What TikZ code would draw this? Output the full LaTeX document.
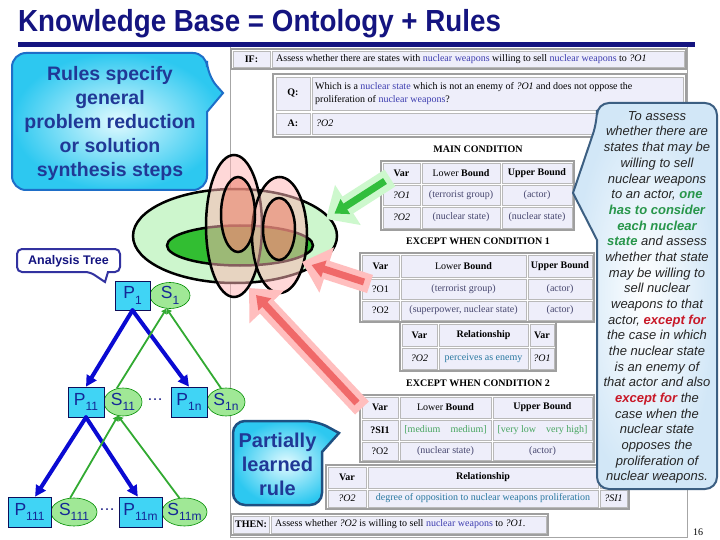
\documentclass[tikz,border=0pt]{standalone}
\usepackage{fontspec}
\setmainfont{Liberation Serif}
\setsansfont{Liberation Sans}
\newfontfamily\titlefont[FakeStretch=0.91]{Liberation Sans}
\usetikzlibrary{arrows.meta,shapes.geometric}
\definecolor{navy}{RGB}{20,20,128}
\definecolor{calltext}{RGB}{32,56,150}
\definecolor{treetext}{RGB}{20,40,150}
\definecolor{cellbg}{RGB}{238,238,250}
\definecolor{nw}{RGB}{60,60,175}
\definecolor{valc}{RGB}{70,70,110}
\definecolor{relc}{RGB}{40,120,160}
\definecolor{grc}{RGB}{70,165,95}
\definecolor{lgreen}{RGB}{205,246,205}
\definecolor{dgreen}{RGB}{50,190,50}
\definecolor{pinkA}{RGB}{255,182,182}
\definecolor{salmon}{RGB}{238,125,105}
\definecolor{pinkO}{RGB}{255,190,190}
\definecolor{pinkI}{RGB}{240,105,105}
\definecolor{greenO}{RGB}{205,248,205}
\definecolor{greenI}{RGB}{50,190,60}
\definecolor{pcyan}{RGB}{64,212,245}
\definecolor{sgreen}{RGB}{160,232,150}
\definecolor{cyanE}{RGB}{45,200,240}
\definecolor{cyanC}{RGB}{225,250,255}
\definecolor{rcE}{RGB}{210,231,247}
\definecolor{rcB}{RGB}{60,95,130}
\definecolor{okgreen}{RGB}{40,150,75}
\definecolor{exred}{RGB}{200,25,40}
\definecolor{barrowc}{RGB}{10,10,210}
\definecolor{garrowc}{RGB}{50,170,50}
\newcommand\cellfont{\fontsize{10}{12}\selectfont}
\newcommand\sbs[1]{\raisebox{-0.3em}{\fontsize{12}{12}\selectfont #1}}
\newcommand\grnb[1]{\textbf{\textcolor{okgreen}{#1}}}
\newcommand\redb[1]{\textbf{\textcolor{exred}{#1}}}
\newcommand\tbcell[6]{\node[cellst, minimum width={(#4-#2)*1pt}, minimum height={(#5-#3)*1pt}] (#1) at ({(#2+#4)/2},{(#3+#5)/2}) {#6};}
\newcommand\tbcelll[6]{\tbcell{#1}{#2}{#3}{#4}{#5}{}\node[anchor=west, inner sep=0, font=\cellfont] (#1-t) at ({#2+4},{(#3+#5)/2}) {#6};}
\tikzset{
  cellst/.style={draw=gray!55, line width=0.7pt, fill=cellbg, inner sep=0, font=\cellfont, text=black},
  tframe/.style={draw=gray!75, line width=1.2pt, fill=white},
  hdr/.style={font=\cellfont\bfseries, inner sep=0},
  ellb/.style={draw=black, line width=2.5pt},
  pinkell/.style={ellb, fill=pinkA, fill opacity=0.52},
  salell/.style={ellb, fill=salmon, fill opacity=0.55},
  fatG/.style={line width=20pt, draw=greenO, -{Triangle[width=46pt,length=26pt]}},
  fatGi/.style={line width=7pt, draw=greenI, -{Triangle[width=17pt,length=13pt]}},
  fatP/.style={line width=19pt, draw=pinkO, -{Triangle[width=46pt,length=26pt]}},
  fatPi/.style={line width=7pt, draw=pinkI, -{Triangle[width=17pt,length=13pt]}},
  pbox/.style={draw=navy!70!black, line width=0.6pt, fill=pcyan, inner sep=0, font=\sffamily\fontsize{17.5}{20}\selectfont, text=treetext},
  sell/.style={ellipse, draw=green!55!black, line width=0.6pt, fill=sgreen, inner sep=0, font=\sffamily\fontsize{17.5}{20}\selectfont, text=treetext},
  barrow/.style={draw=barrowc, line width=4pt, line cap=round, -{Triangle[length=11pt,width=11pt]}},
  garrow/.style={draw=garrowc, line width=1.8pt, -{Triangle[length=5pt,width=6pt]}},
  lcall/.style={draw={rgb,255:red,30;green,110;blue,200}, line width=2pt, inner color=cyanC, outer color=cyanE},
  pcall/.style={draw={rgb,255:red,30;green,80;blue,130}, line width=2.5pt, inner color=cyanC, outer color=cyanE},
  rcall/.style={draw=rcB, line width=2pt, inner color=white, outer color=rcE},
  acall/.style={draw={rgb,255:red,50;green,50;blue,160}, line width=2pt, fill=white},
}
\begin{document}
\begin{tikzpicture}[x=1pt,y=-1pt]
\useasboundingbox (0,0) rectangle (720,540);
\fill[white] (0,0) rectangle (720,540);
% title and bar
\node[anchor=base west, inner sep=0, text=navy, font=\titlefont\bfseries\fontsize{30.5}{34}\selectfont] (title) at (18,32) {Knowledge Base = Ontology + Rules};
\fill[navy] (18,42) rectangle (695,47.5);
% screenshot frame
\draw[gray!70, line width=0.8pt] (230,47.5) -- (230,537) -- (687,537) -- (687,47.5);
% IF row
\draw[tframe] (231,49) rectangle (686,69);
\tbcell{ifl}{233}{51}{270}{67}{\textbf{IF:}}
\tbcelll{ift}{272}{51}{684}{67}{Assess whether there are states with \textcolor{nw}{nuclear weapons} willing to sell \textcolor{nw}{nuclear weapons} to \textit{?O1}}
% Q / A
\draw[tframe] (273,74) rectangle (686,137);
\tbcell{ql}{276}{77}{310}{110}{\textbf{Q:}}
\tbcell{qt}{312}{77}{683}{110}{}
\node[anchor=west, inner sep=0, align=left, font=\fontsize{10}{13}\selectfont] (qtext) at (315,93.5) {Which is a \textcolor{nw}{nuclear state} which is not an enemy of \textit{?O1} and does not oppose the\\proliferation of \textcolor{nw}{nuclear weapons}?};
\tbcell{al}{276}{113}{310}{134}{\textbf{A:}}
\tbcelll{at}{312}{113}{683}{134}{\textit{?O2}}
% main condition
\node[hdr] (mainh) at (478,149) {MAIN CONDITION};
\draw[tframe] (381,161) rectangle (574,230);
\tbcell{m11}{383}{163}{420}{183}{\textbf{Var}}
\tbcell{m12}{422}{163}{500}{183}{Lower \textbf{Bound}}
\tbcell{m13}{502}{163}{572}{183}{\textbf{Upper Bound}}
\tbcell{m21}{383}{185}{420}{205}{\textit{?O1}}
\tbcell{m22}{422}{185}{500}{205}{\textcolor{valc}{(terrorist group)}}
\tbcell{m23}{502}{185}{572}{205}{\textcolor{valc}{(actor)}}
\tbcell{m31}{383}{207}{420}{228}{\textit{?O2}}
\tbcell{m32}{422}{207}{500}{228}{\textcolor{valc}{(nuclear state)}}
\tbcell{m33}{502}{207}{572}{228}{\textcolor{valc}{(nuclear state)}}
% except 1
\node[hdr] (ex1h) at (478,241) {EXCEPT WHEN CONDITION 1};
\draw[tframe] (360,253) rectangle (594,322);
\tbcell{a11}{362}{255}{399}{277}{\textbf{Var}}
\tbcell{a12}{401}{255}{526}{277}{Lower \textbf{Bound}}
\tbcell{a13}{528}{255}{592}{277}{\textbf{Upper Bound}}
\tbcell{a21}{362}{279}{399}{299}{?O1}
\tbcell{a22}{401}{279}{526}{299}{\textcolor{valc}{(terrorist group)}}
\tbcell{a23}{528}{279}{592}{299}{\textcolor{valc}{(actor)}}
\tbcell{a31}{362}{301}{399}{320}{?O2}
\tbcell{a32}{401}{301}{526}{320}{\textcolor{valc}{(superpower, nuclear state)}}
\tbcell{a33}{528}{301}{592}{320}{\textcolor{valc}{(actor)}}
\draw[tframe] (400,322) rectangle (556,371);
\tbcell{r11}{402}{324}{437}{346}{\textbf{Var}}
\tbcell{r12}{439}{324}{528}{346}{\textbf{Relationship}}
\tbcell{r13}{530}{324}{554}{346}{\textbf{Var}}
\tbcell{r21}{402}{348}{437}{369}{\textit{?O2}}
\tbcell{r22}{439}{348}{528}{369}{\textcolor{relc}{perceives as enemy}}
\tbcell{r23}{530}{348}{554}{369}{\textit{?O1}}
% except 2
\node[hdr] (ex2h) at (478,383) {EXCEPT WHEN CONDITION 2};
\draw[tframe] (360,395) rectangle (594,462);
\tbcell{b11}{362}{397}{398}{418}{\textbf{Var}}
\tbcell{b12}{400}{397}{491}{418}{Lower \textbf{Bound}}
\tbcell{b13}{493}{397}{592}{418}{\textbf{Upper Bound}}
\tbcell{b21}{362}{420}{398}{440}{\textbf{?SI1}}
\tbcell{b22}{400}{420}{491}{440}{\textcolor{grc}{[medium\quad medium]}}
\tbcell{b23}{493}{420}{592}{440}{\textcolor{grc}{[very low\quad very high]}}
\tbcell{b31}{362}{442}{398}{460}{?O2}
\tbcell{b32}{400}{442}{491}{460}{\textcolor{valc}{(nuclear state)}}
\tbcell{b33}{493}{442}{592}{460}{\textcolor{valc}{(actor)}}
\draw[tframe] (326,465) rectangle (629,509);
\tbcell{s11}{328}{467}{366}{488}{\textbf{Var}}
\tbcell{s12}{368}{467}{598}{488}{\textbf{Relationship}}
\tbcell{s13}{600}{467}{627}{488}{}
\tbcell{s21}{328}{490}{366}{507}{\textit{?O2}}
\tbcell{s22}{368}{490}{598}{507}{\textcolor{relc}{degree of opposition to nuclear weapons proliferation}}
\tbcell{s23}{600}{490}{627}{507}{\textit{?SI1}}
% THEN row
\draw[tframe] (231,514) rectangle (548,535);
\tbcell{thl}{233}{516}{269}{533}{\textbf{THEN:}}
\tbcelll{tht}{271}{516}{546}{533}{Assess whether \textit{?O2} is willing to sell \textcolor{nw}{nuclear weapons} to \textit{?O1}.}
\node[inner sep=0, font=\cellfont] (pnum) at (698,532) {16};
% ellipse group
\draw[ellb, fill=lgreen] (235,236) ellipse [x radius=102pt, y radius=47pt];
\draw[ellb, fill=dgreen] (240,245.5) ellipse [x radius=73pt, y radius=20pt];
\draw[pinkell] (234,226) ellipse [x radius=28pt, y radius=71pt];
\draw[pinkell] (279.5,235) ellipse [x radius=27.5pt, y radius=58pt];
\draw[salell] (238,214.5) ellipse [x radius=17pt, y radius=37.5pt];
\draw[salell] (279,229) ellipse [x radius=16pt, y radius=31pt];
% fat arrows
\coordinate (g1a) at (390,178); \coordinate (g1b) at (326,219);
\coordinate (g2a) at (385,181); \coordinate (g2b) at (334.4,213.6);
\draw[fatG] (g1a) -- (g1b);
\draw[fatGi] (g2a) -- (g2b);
\coordinate (p1a) at (370,284); \coordinate (p1b) at (302,262);
\coordinate (p2a) at (364,282); \coordinate (p2b) at (311.5,265);
\draw[fatP] (p1a) -- (p1b);
\draw[fatPi] (p2a) -- (p2b);
\coordinate (q1a) at (362,408); \coordinate (q1b) at (249,288);
\coordinate (q2a) at (357,403); \coordinate (q2b) at (256,295);
\draw[fatP] (q1a) -- (q1b);
\draw[fatPi] (q2a) -- (q2b);
% right callout
\draw[rcall] (597,122) -- (573,193) -- (597,240) [rounded corners=12pt] -- (597,489) -- (717,489) -- (717,103) -- (597,103) -- cycle;
\node[font=\sffamily\itshape\fontsize{13}{15.68}\selectfont, align=center, inner sep=0, text=black!85] (rtext) at (657,297.5) {To assess\\whether there are\\states that may be\\willing to sell\\nuclear weapons\\to an actor, \grnb{one}\\\grnb{has to consider}\\\grnb{each nuclear}\\\grnb{state} and assess\\whether that state\\may be willing to\\sell nuclear\\weapons to that\\actor, \redb{except for}\\the case in which\\the nuclear state\\is an enemy of\\that actor and also\\\redb{except for} the\\case when the\\nuclear state\\opposes the\\proliferation of\\nuclear weapons.};
% left callout
\draw[lcall] (207,75) -- (223,93) -- (207,112) [rounded corners=14pt] -- (207,190) -- (12,190) -- (12,53) -- (207,53) -- cycle;
\node[font=\sffamily\bfseries\fontsize{19.5}{24}\selectfont, align=center, inner sep=0, text=calltext] (ltext) at (110,123) {Rules specify\\general\\problem reduction\\or solution\\synthesis steps};
% analysis tree callout
\draw[acall] (90,272) -- (105,282) -- (108,272) [rounded corners=5pt] -- (120,272) -- (120,249) -- (17,249) -- (17,272) -- cycle;
\node[font=\sffamily\bfseries\fontsize{12.5}{14}\selectfont, inner sep=0, text=navy] (atext) at (68.5,261) {Analysis Tree};
% partially learned rule callout
\draw[pcall] (317,421) -- (339,433) -- (322,452) [rounded corners=12pt] -- (322,505) -- (233,505) -- (233,421) -- cycle;
\node[font=\sffamily\bfseries\fontsize{20}{24}\selectfont, align=center, inner sep=0, text=calltext] (ptext) at (277.5,464) {Partially\\learned\\rule};
% tree
\node[sell, minimum width=40pt, minimum height=26pt] (S1) at (170,295.5) {\makebox[0pt]{S\sbs{1}}};
\node[pbox, minimum width=35pt, minimum height=29pt] (P1) at (132.5,295.5) {P\sbs{1}};
\node[sell, minimum width=38pt, minimum height=28pt] (S11) at (123,402) {\makebox[0pt]{S\sbs{11}}};
\node[pbox, minimum width=36pt, minimum height=30pt] (P11) at (86,402) {P\sbs{11}};
\node[sell, minimum width=38pt, minimum height=28pt] (S1n) at (226,402) {\makebox[0pt]{S\sbs{1n}}};
\node[pbox, minimum width=36pt, minimum height=30pt] (P1n) at (189,402) {P\sbs{1n}};
\node[font=\sffamily\fontsize{16}{18}\selectfont, text=navy, inner sep=0] (dots1) at (155,400) {\dots};
\node[sell, minimum width=46pt, minimum height=28pt] (S111) at (74,512) {\makebox[0pt]{S\sbs{111}}};
\node[pbox, minimum width=43pt, minimum height=30pt] (P111) at (29.5,512) {P\sbs{111}};
\node[sell, minimum width=45pt, minimum height=28pt] (S11m) at (184.5,512) {\makebox[0pt]{S\sbs{11m}}};
\node[pbox, minimum width=43pt, minimum height=30pt] (P11m) at (140.5,512) {P\sbs{11m}};
\node[font=\sffamily\fontsize{16}{18}\selectfont, text=navy, inner sep=0] (dots2) at (107,510) {\dots};
\draw[barrow] (P1.south) -- (P11.north);
\draw[barrow] (P1.south) -- (P1n.north);
\draw[barrow] (P11.south) -- (P111.70);
\draw[barrow] (P11.south) -- (P11m.100);
\draw[garrow] (S11.115) -- (S1.255);
\draw[garrow] (S1n.110) -- (S1.255);
\draw[garrow] (S111.105) -- (S11.250);
\draw[garrow] (S11m.110) -- (S11.250);
\end{tikzpicture}
\end{document}
